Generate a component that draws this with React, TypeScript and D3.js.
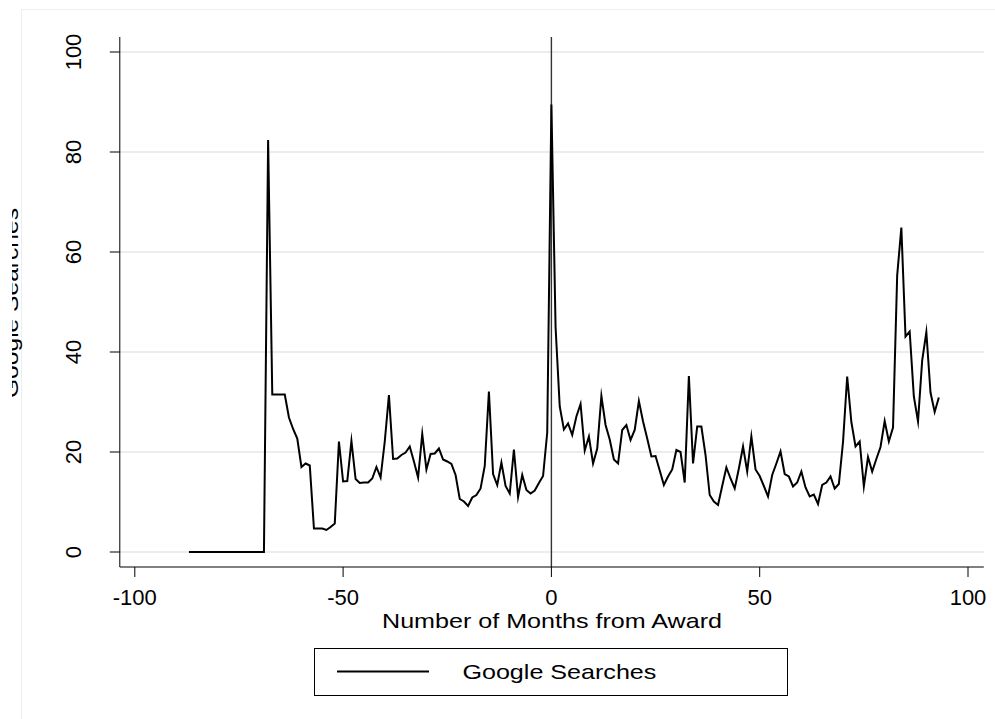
import React from "react";
import * as d3 from "d3";

const months: number[] = [
  -87, -86, -85, -84, -83, -82, -81, -80, -79, -78, -77, -76, -75, -74, -73, -72, -71, -70, -69,
  -68, -67, -66, -65, -64, -63, -62, -61, -60, -59, -58, -57, -56, -55, -54, -53, -52,
  -51, -50, -49, -48, -47, -46, -45, -44, -43, -42, -41, -40, -39, -38, -37, -36, -35, -34,
  -33, -32, -31, -30, -29, -28, -27, -26, -25, -24, -23, -22, -21, -20, -19, -18, -17, -16,
  -15, -14, -13, -12, -11, -10, -9, -8, -7, -6, -5, -4, -3, -2, -1,
  0, 1, 2, 3, 4, 5, 6, 7, 8, 9, 10, 11, 12, 13, 14, 15, 16, 17, 18, 19, 20,
  21, 22, 23, 24, 25, 26, 27, 28, 29, 30, 31, 32, 33, 34, 35, 36, 37, 38, 39, 40,
  41, 42, 43, 44, 45, 46, 47, 48, 49, 50, 51, 52, 53, 54, 55, 56, 57, 58, 59, 60,
  61, 62, 63, 64, 65, 66, 67, 68, 69, 70, 71, 72, 73, 74, 75, 76, 77, 78, 79, 80,
  81, 82, 83, 84, 85, 86, 87, 88, 89, 90, 91, 92, 93,
];

const searches: number[] = [
  0, 0, 0, 0, 0, 0, 0, 0, 0, 0, 0, 0, 0, 0, 0, 0, 0, 0, 0,
  82.4, 31.5, 31.5, 31.5, 31.5, 26.9, 24.6, 22.7, 17.0, 17.7, 17.3, 4.7, 4.7, 4.7, 4.4, 5.0, 5.7,
  22.1, 14.1, 14.2, 22.2, 14.6, 13.8, 13.9, 13.9, 14.7, 17.0, 14.9, 22.1, 31.4, 18.6, 18.7, 19.4, 19.9, 21.1,
  18.1, 14.9, 23.6, 16.5, 19.6, 19.7, 20.7, 18.5, 18.1, 17.6, 15.4, 10.6, 10.1, 9.2, 10.9, 11.4, 12.7, 17.2,
  32.1, 15.6, 13.4, 17.9, 13.2, 11.7, 20.5, 11.0, 15.4, 12.4, 11.7, 12.3, 13.8, 15.2, 23.9,
  89.5, 45.0, 29.1, 24.5, 25.7, 23.4, 27.1, 29.6, 20.3, 23.1, 17.7, 20.7, 31.2, 25.4, 22.5, 18.5, 17.7, 24.4, 25.4, 22.4, 24.4,
  30.2, 26.1, 22.7, 19.1, 19.2, 16.3, 13.4, 15.1, 16.5, 20.4, 20.0, 13.9, 35.2, 17.7, 25.1, 25.1, 19.4, 11.4, 10.1, 9.4,
  13.2, 16.9, 14.7, 12.7, 16.7, 21.1, 16.1, 23.1, 16.5, 15.2, 13.2, 11.1, 15.4, 17.7, 20.1, 15.6, 15.1, 13.1, 13.9, 16.1,
  12.9, 11.1, 11.5, 9.6, 13.4, 13.9, 15.1, 12.7, 13.6, 22.0, 35.1, 26.0, 21.1, 22.1, 13.1, 19.0, 16.1, 18.6, 21.0, 26.2,
  22.1, 24.9, 55.3, 64.9, 43.1, 44.1, 31.1, 26.1, 38.3, 44.0, 31.9, 28.0, 30.9,
];

const xTicks: number[] = [-100, -50, 0, 50, 100];
const yTicks: number[] = [0, 20, 40, 60, 80, 100];
const xTitle = "Number of Months from Award";
const yTitle = "Google Searches";
const legendLabel = "Google Searches";
const awardMonth = 0;

const W = 995;
const H = 719;
const FONT = "'Liberation Sans', Arial, Helvetica, sans-serif";

export default function App() {
  const x = d3.scaleLinear().domain([-100, 100]).range([134.8, 968]);
  const y = d3.scaleLinear().domain([0, 100]).range([552, 52]);

  const xLeft = x(-103.6);
  const xRight = x(103.8);
  const yBottom = y(-3);
  const yTop = y(103);

  const pts = months.map((m, i) => [m, searches[i]] as [number, number]);
  const line = d3
    .line<[number, number]>()
    .x((d) => x(d[0]))
    .y((d) => y(d[1]));

  return (
    <svg
      width={W}
      height={H}
      viewBox={`0 0 ${W} ${H}`}
      style={{ position: "absolute", left: 0, top: 0, background: "#ffffff" }}
      fontFamily={FONT}
    >
      <defs>
        <clipPath id="ytclip">
          <rect x={12} y={0} width={W} height={H} />
        </clipPath>
      </defs>
      <rect x={0} y={0} width={W} height={H} fill="#ffffff" />
      <rect x={21.5} y={9.5} width={W} height={H} fill="none" stroke="#eeeeee" strokeWidth={1} />

      {/* gridlines */}
      {yTicks.map((t) => (
        <line
          key={"g" + t}
          x1={xLeft}
          x2={xRight}
          y1={y(t)}
          y2={y(t)}
          stroke="#e6e6e6"
          strokeWidth={1.3}
        />
      ))}

      {/* award reference line */}
      <line
        x1={x(awardMonth)}
        x2={x(awardMonth)}
        y1={yTop}
        y2={yBottom}
        stroke="#333333"
        strokeWidth={1.4}
      />

      {/* data line */}
      <path
        d={line(pts) || ""}
        fill="none"
        stroke="#000000"
        strokeWidth={2}
        strokeLinejoin="miter"
        strokeMiterlimit={10}
      />

      {/* axes */}
      <line x1={xLeft} x2={xLeft} y1={yTop} y2={yBottom} stroke="#000" strokeWidth={1} />
      <line x1={xLeft} x2={xRight} y1={yBottom} y2={yBottom} stroke="#000" strokeWidth={1} />

      {yTicks.map((t) => (
        <g key={"yt" + t}>
          <line x1={xLeft - 10} x2={xLeft} y1={y(t)} y2={y(t)} stroke="#000" strokeWidth={1} />
          <text
            transform={`translate(81,${y(t)}) rotate(-90)`}
            textAnchor="middle"
            fontSize={22}
            fill="#000"
          >
            {t}
          </text>
        </g>
      ))}

      {xTicks.map((t) => (
        <g key={"xt" + t}>
          <line x1={x(t)} x2={x(t)} y1={yBottom} y2={yBottom + 10} stroke="#000" strokeWidth={1} />
          <text x={x(t)} y={605} textAnchor="middle" fontSize={22} fill="#000">
            {t}
          </text>
        </g>
      ))}

      <text
        x={552}
        y={628}
        textAnchor="middle"
        fontSize={21}
        textLength={340}
        lengthAdjust="spacingAndGlyphs"
        fill="#000"
      >
        {xTitle}
      </text>

      <g clipPath="url(#ytclip)">
        <text
          transform={`translate(18,303) rotate(-90)`}
          textAnchor="middle"
          fontSize={21}
          textLength={190}
          lengthAdjust="spacingAndGlyphs"
          fill="#000"
        >
          {yTitle}
        </text>
      </g>

      {/* legend */}
      <rect x={314.5} y={648.5} width={473} height={47} fill="#fff" stroke="#000" strokeWidth={1} />
      <line x1={337} x2={429} y1={671.5} y2={671.5} stroke="#000" strokeWidth={2} />
      <text
        x={462.4}
        y={679}
        fontSize={21}
        textLength={194}
        lengthAdjust="spacingAndGlyphs"
        fill="#000"
      >
        {legendLabel}
      </text>
    </svg>
  );
}
